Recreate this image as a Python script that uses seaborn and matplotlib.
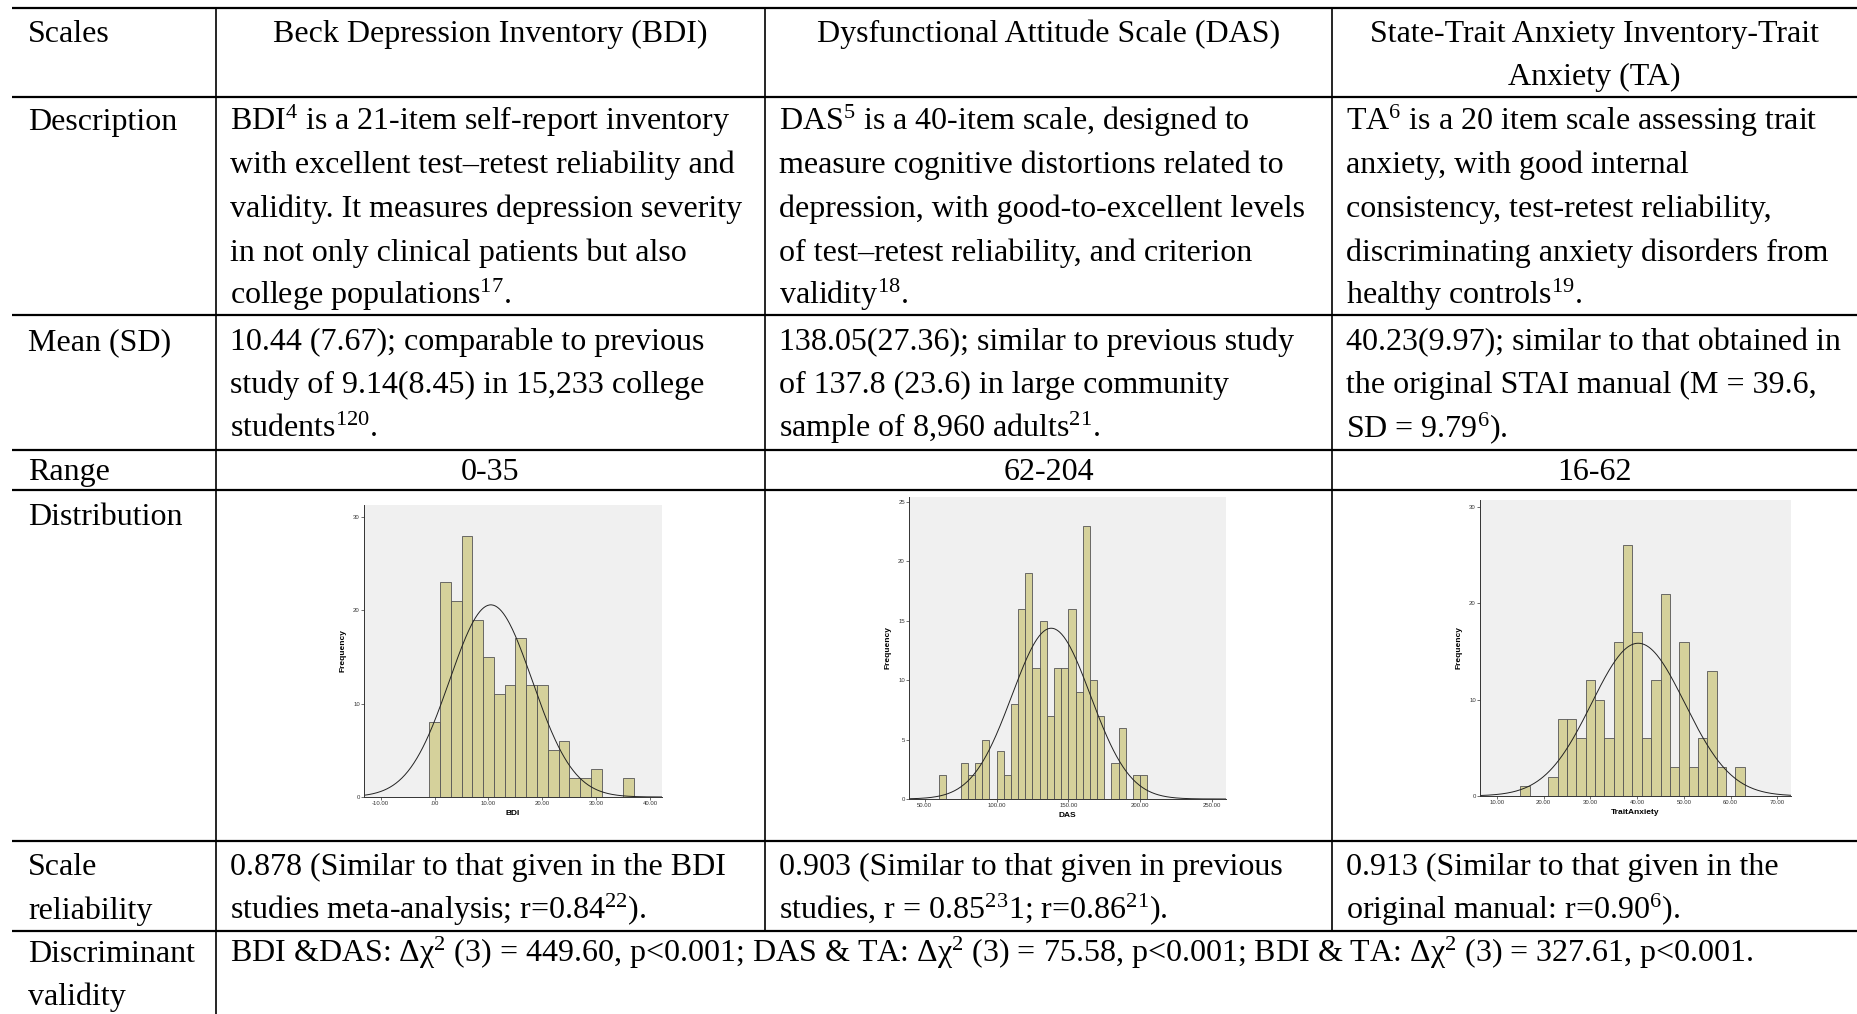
import numpy as np
import matplotlib
matplotlib.use("Agg")
import matplotlib.pyplot as plt
import seaborn as sns

# --- histogram data (bin mid-points + counts) ---
bdi_mids = [0, 2, 4, 6, 8, 10, 12, 14, 16, 18, 20, 22, 24, 26, 28, 30, 32, 34, 36]
bdi_counts = [8, 23, 21, 28, 19, 15, 11, 12, 17, 12, 12, 5, 6, 2, 2, 3, 0, 0, 2]

das_mids = [62.5, 67.5, 72.5, 77.5, 82.5, 87.5, 92.5, 97.5, 102.5, 107.5,
            112.5, 117.5, 122.5, 127.5, 132.5, 137.5, 142.5, 147.5, 152.5, 157.5,
            162.5, 167.5, 172.5, 177.5, 182.5, 187.5, 192.5, 197.5, 202.5]
das_counts = [2, 0, 0, 3, 2, 3, 5, 0, 4, 2,
              8, 16, 19, 11, 15, 7, 11, 11, 16, 9,
              23, 10, 7, 0, 3, 6, 0, 2, 2]

ta_mids = [16, 18, 20, 22, 24, 26, 28, 30, 32, 34, 36, 38,
           40, 42, 44, 46, 48, 50, 52, 54, 56, 58, 60, 62]
ta_counts = [1, 0, 0, 2, 8, 8, 6, 12, 10, 6, 16, 26,
             17, 6, 12, 21, 3, 16, 3, 6, 13, 3, 0, 3]

# mean / sd from the table (used for the fitted normal curve)
scale_means = [10.44, 138.05, 40.23]
scale_sds = [7.67, 27.36, 9.97]

# --- table text ---
headers = ["Beck Depression Inventory (BDI)",
           "Dysfunctional Attitude Scale (DAS)",
           "State-Trait Anxiety Inventory-Trait\nAnxiety (TA)"]
desc = [
    ["BDI$^{4}$ is a 21-item self-report inventory",
     "with excellent test\u2013retest reliability and",
     "validity. It measures depression severity",
     "in not only clinical patients but also",
     "college populations$^{17}$."],
    ["DAS$^{5}$ is a 40-item scale, designed to",
     "measure cognitive distortions related to",
     "depression, with good-to-excellent levels",
     "of test\u2013retest reliability, and criterion",
     "validity$^{18}$."],
    ["TA$^{6}$ is a 20 item scale assessing trait",
     "anxiety, with good internal",
     "consistency, test-retest reliability,",
     "discriminating anxiety disorders from",
     "healthy controls$^{19}$."],
]
mean_sd = [
    ["10.44 (7.67); comparable to previous",
     "study of 9.14(8.45) in 15,233 college",
     "students$^{120}$."],
    ["138.05(27.36); similar to previous study",
     "of 137.8 (23.6) in large community",
     "sample of 8,960 adults$^{21}$."],
    ["40.23(9.97); similar to that obtained in",
     "the original STAI manual (M = 39.6,",
     "SD = 9.79$^{6}$)."],
]
ranges = ["0-35", "62-204", "16-62"]
reliab = [
    ["0.878 (Similar to that given in the BDI",
     "studies meta-analysis; r=0.84$^{22}$)."],
    ["0.903 (Similar to that given in previous",
     "studies, r = 0.85$^{23}$1; r=0.86$^{21}$)."],
    ["0.913 (Similar to that given in the",
     "original manual: r=0.90$^{6}$)."],
]
discrim = ("BDI &DAS: \u0394\u03c7$^{2}$ (3) = 449.60, p<0.001; DAS & TA: \u0394\u03c7$^{2}$ (3) = 75.58, "
           "p<0.001; BDI & TA: \u0394\u03c7$^{2}$ (3) = 327.61, p<0.001.")

plt.rcParams['font.family'] = ['Liberation Serif', 'DejaVu Serif']
plt.rcParams['mathtext.fontset'] = 'custom'
plt.rcParams['mathtext.rm'] = 'Liberation Serif'
plt.rcParams['mathtext.it'] = 'Liberation Serif:italic'
plt.rcParams['mathtext.bf'] = 'Liberation Serif:bold'

W, H = 1857, 1014
fig = plt.figure(figsize=(W / 100, H / 100), dpi=100)
fig.patch.set_facecolor('white')

ax = fig.add_axes([0, 0, 1, 1])
ax.set_xlim(0, W)
ax.set_ylim(H, 0)
ax.axis('off')

# table rules
col_x = [216, 765, 1332]
row_y = [8, 97, 315, 450, 490, 841, 931]
for y in row_y:
    ax.plot([12, W], [y, y], color='black', lw=1.6, solid_capstyle='butt')
ax.plot([col_x[0], col_x[0]], [8, H], color='black', lw=1.2)
for x in col_x[1:]:
    ax.plot([x, x], [8, 931], color='black', lw=1.2)

FS = 23
LH = 43.5
text_x = [230, 779, 1346]
col_mid = [490.5, 1048.5, 1594.5]


def write(x, y, lines, ha='left'):
    for i, s in enumerate(lines):
        ax.text(x, y + i * LH, s, fontsize=FS, ha=ha, va='baseline')


# row labels
write(28, 42, ["Scales"])
write(28, 130, ["Description"])
write(28, 350, ["Mean (SD)"])
write(28, 480, ["Range"])
write(28, 525, ["Distribution"])
write(28, 875, ["Scale", "reliability"])
write(28, 962, ["Discriminant", "validity"])

for i in range(3):
    write(col_mid[i], 42, headers[i].split("\n"), ha='center')
    write(text_x[i], 130, desc[i])
    write(text_x[i], 350, mean_sd[i])
    write(col_mid[i], 480, [ranges[i]], ha='center')
    write(text_x[i], 875, reliab[i])
write(text_x[0], 962, [discrim])

# --- histograms ---
hist_specs = [
    dict(mids=bdi_mids, counts=bdi_counts, bw=2, brange=(-1, 37), box=(364, 505, 662, 797),
         xlim=(-13.1, 42.2), ylim=(0, 31.3), xt=[-10, 0, 10, 20, 30, 40],
         xtl=["-10.00", ".00", "10.00", "20.00", "30.00", "40.00"], yt=[0, 10, 20, 30], name="BDI"),
    dict(mids=das_mids, counts=das_counts, bw=5, brange=(60, 205), box=(909, 497, 1226, 799),
         xlim=(39, 259.8), ylim=(0, 25.4), xt=[50, 100, 150, 200, 250],
         xtl=["50.00", "100.00", "150.00", "200.00", "250.00"], yt=[0, 5, 10, 15, 20, 25], name="DAS"),
    dict(mids=ta_mids, counts=ta_counts, bw=2, brange=(15, 63), box=(1480, 500, 1791, 796),
         xlim=(6.4, 72.9), ylim=(0, 30.7), xt=[10, 20, 30, 40, 50, 60, 70],
         xtl=["10.00", "20.00", "30.00", "40.00", "50.00", "60.00", "70.00"], yt=[0, 10, 20, 30],
         name="TraitAnxiety"),
]

for k, s in enumerate(hist_specs):
    x0, y0, x1, y1 = s['box']
    hax = fig.add_axes([x0 / W, 1 - y1 / H, (x1 - x0) / W, (y1 - y0) / H])
    hax.set_facecolor('#f0f0f0')
    sns.histplot(x=s['mids'], weights=s['counts'], binwidth=s['bw'], binrange=s['brange'],
                 color='#d5d19b', edgecolor='#555555', linewidth=0.6, alpha=1, ax=hax)
    # normal curve from the reported mean / sd
    n = sum(s['counts'])
    xs = np.linspace(s['xlim'][0], s['xlim'][1], 300)
    m, sd = scale_means[k], scale_sds[k]
    ys = n * s['bw'] / (sd * np.sqrt(2 * np.pi)) * np.exp(-0.5 * ((xs - m) / sd) ** 2)
    hax.plot(xs, ys, color='#222222', lw=0.7)
    hax.set_xlim(*s['xlim'])
    hax.set_ylim(*s['ylim'])
    hax.set_xticks(s['xt'])
    hax.set_xticklabels(s['xtl'])
    hax.set_yticks(s['yt'])
    hax.tick_params(labelsize=4.3, length=2, width=0.5, pad=1, colors='#333333')
    for lab in hax.get_xticklabels() + hax.get_yticklabels():
        lab.set_family('Liberation Sans')
    hax.set_xlabel(s['name'], fontsize=6, fontweight='bold', family='Liberation Sans', labelpad=3)
    hax.set_ylabel('Frequency', fontsize=6, fontweight='bold', family='Liberation Sans', labelpad=5)
    for side in ['top', 'right']:
        hax.spines[side].set_visible(False)
    for side in ['left', 'bottom']:
        hax.spines[side].set_linewidth(0.7)
        hax.spines[side].set_color('#333333')

fig.savefig('out.png', dpi=100)
